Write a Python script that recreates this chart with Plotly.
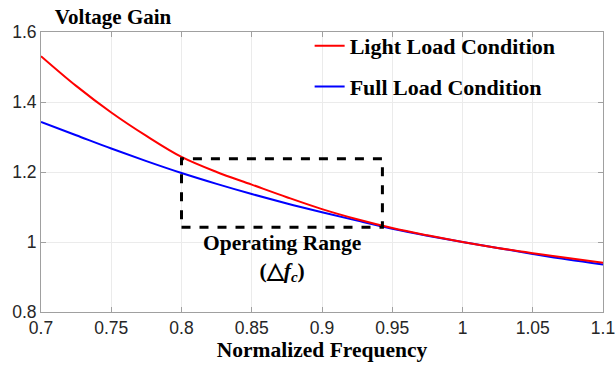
import plotly.graph_objects as go

# Data
freq = [0.70, 0.725, 0.75, 0.775, 0.80, 0.825, 0.85, 0.875, 0.90, 0.925, 0.95, 0.975, 1.00, 1.025, 1.05, 1.075, 1.10]
light_load = [1.531, 1.446, 1.370, 1.303, 1.243, 1.200, 1.164, 1.128, 1.094, 1.065, 1.040, 1.019, 1.000, 0.983, 0.968, 0.954, 0.941]
full_load = [1.343, 1.305, 1.267, 1.231, 1.197, 1.166, 1.137, 1.110, 1.085, 1.061, 1.038, 1.018, 1.000, 0.983, 0.966, 0.950, 0.936]

# operating range box (x range, y range)
range_f = [0.80, 0.943]
range_gain = [1.042, 1.238]

x_ticks = [0.7, 0.75, 0.8, 0.85, 0.9, 0.95, 1.0, 1.05, 1.1]
x_tick_labels = ["0.7", "0.75", "0.8", "0.85", "0.9", "0.95", "1", "1.05", "1.1"]
y_ticks = [0.8, 1.0, 1.2, 1.4, 1.6]
y_tick_labels = ["0.8", "1", "1.2", "1.4", "1.6"]

SERIF = "Liberation Serif, Times New Roman, serif"
SANS = "Liberation Sans, Arial, sans-serif"

fig = go.Figure()
fig.add_trace(go.Scatter(x=freq, y=full_load, mode="lines", name="<b>Full Load Condition</b>",
                         line=dict(color="#0000ff", width=2, shape="spline"), legendgroup="b",
                         legendrank=2))
fig.add_trace(go.Scatter(x=freq, y=light_load, mode="lines", name="<b>Light Load Condition</b>",
                         line=dict(color="#ff0000", width=2, shape="spline"), legendgroup="a",
                         legendrank=1))

fig.add_shape(type="rect", x0=range_f[0], x1=range_f[1], y0=range_gain[0], y1=range_gain[1],
              xref="x", yref="y", line=dict(color="black", width=3, dash="dash"))

fig.add_annotation(x=(range_f[0] + range_f[1]) / 2, y=range_gain[0], xref="x", yref="y",
                   text="<b>Operating Range</b><br><b>(△<i>f<sub>c</sub></i>)</b>",
                   showarrow=False, yanchor="top", yshift=-2,
                   font=dict(family=SERIF, size=21.5, color="black"))

axis_common = dict(showgrid=True, gridcolor="#ebebeb", gridwidth=1,
                   showline=True, linecolor="#a0a0a0", linewidth=1,
                   mirror="allticks", ticks="inside", ticklen=5, tickcolor="#a0a0a0",
                   zeroline=False, automargin=False, ticklabeloverflow="allow",
                   tickfont=dict(family=SANS, size=17.5, color="#262626"))

fig.update_xaxes(range=[0.7, 1.1], tickvals=x_ticks, ticktext=x_tick_labels,
                 title=dict(text="<b>Normalized Frequency</b>", standoff=0,
                            font=dict(family=SERIF, size=21.5, color="black")),
                 **axis_common)
fig.update_yaxes(range=[0.8, 1.6], tickvals=y_ticks, ticktext=y_tick_labels, **axis_common)

fig.update_layout(
    width=615, height=365,
    margin=dict(l=41, r=12, t=32, b=53, autoexpand=False),
    plot_bgcolor="white", paper_bgcolor="white",
    title=dict(text="<b>Voltage Gain</b>", x=113 / 615, xref="container", xanchor="center",
               y=1 - 17 / 365, yref="container", yanchor="middle",
               font=dict(family=SERIF, size=21, color="black")),
    showlegend=True,
    legend=dict(x=0.478, y=1.025, xanchor="left", yanchor="top",
                bgcolor="rgba(0,0,0,0)", tracegroupgap=9,
                font=dict(family=SERIF, size=22, color="black")),
)

fig.write_html("out.html")
